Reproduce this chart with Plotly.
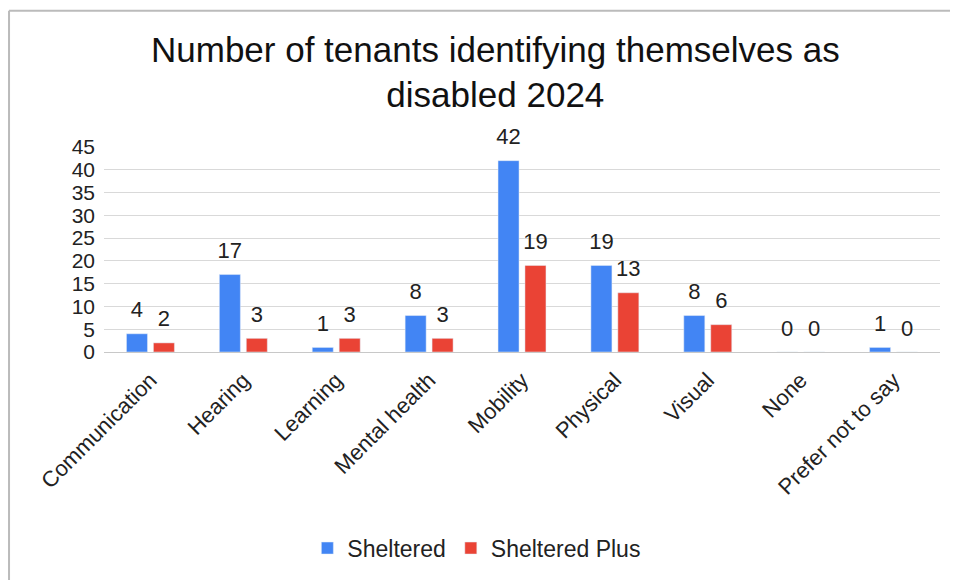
import plotly.graph_objects as go

categories = ["Communication", "Hearing", "Learning", "Mental health", "Mobility",
              "Physical", "Visual", "None", "Prefer not to say"]
sheltered = [4, 17, 1, 8, 42, 19, 8, 0, 1]
sheltered_plus = [2, 3, 3, 3, 19, 13, 6, 0, 0]
y_ticks = [0, 5, 10, 15, 20, 25, 30, 35, 40, 45]

FONT = "Liberation Sans, Arial, sans-serif"
BLUE = "#4285f4"
RED = "#ea4335"

fig = go.Figure()
fig.add_trace(go.Bar(x=categories, y=sheltered, name="Sheltered",
                     marker_color=BLUE, offsetgroup="a"))
fig.add_trace(go.Bar(x=categories, y=sheltered_plus, name="Sheltered Plus",
                     marker_color=RED, offsetgroup="b"))
# data labels, placed above the bars with a gap
for vals, grp in [(sheltered, "a"), (sheltered_plus, "b")]:
    fig.add_trace(go.Scatter(x=categories, y=vals, mode="markers+text", text=[str(v) for v in vals],
                             textposition="top center", offsetgroup=grp,
                             marker=dict(size=16, opacity=0), showlegend=False,
                             textfont=dict(size=22, color="#222222", family=FONT),
                             cliponaxis=False, hoverinfo="skip"))

fig.update_layout(
    width=950, height=572,
    margin=dict(l=96, r=18, t=139, b=227),
    paper_bgcolor="white", plot_bgcolor="white",
    font=dict(family=FONT, color="#222222"),
    title=dict(text="Number of tenants identifying themselves as<br>disabled 2024",
               x=0.513, xanchor="center", y=0.906, yanchor="middle",
               font=dict(size=35, color="#111111", family=FONT)),
    barmode="group", bargap=0.42, bargroupgap=0.22,
    scattermode="group", scattergap=0.42,
    showlegend=True,
    legend=dict(orientation="h", x=0.446, xanchor="center", y=-0.947, yanchor="middle",
                font=dict(size=23, color="#222222")),
)
fig.update_yaxes(range=[0, 45], tickvals=y_ticks, showgrid=True, gridcolor="#d9d9d9",
                 gridwidth=1, zeroline=True, zerolinecolor="#c8c8c8", zerolinewidth=1,
                 tickfont=dict(size=21, color="#222222"), ticks="", showline=False,
                 automargin=False, ticklabelstandoff=8)
fig.update_xaxes(tickangle=-45, tickfont=dict(size=22, color="#222222"), showline=False,
                 ticks="", automargin=False, ticklabelstandoff=10)
# chart frame: top and left edges visible
fig.add_shape(type="line", xref="paper", yref="paper",
              x0=-0.1136, x1=1.2, y0=1.665, y1=1.665,
              line=dict(color="#bbbbbb", width=2), layer="below")
fig.add_shape(type="line", xref="paper", yref="paper",
              x0=-0.1136, x1=-0.1136, y0=-1.3, y1=1.665,
              line=dict(color="#bbbbbb", width=2), layer="below")

fig.write_html("out.html")
